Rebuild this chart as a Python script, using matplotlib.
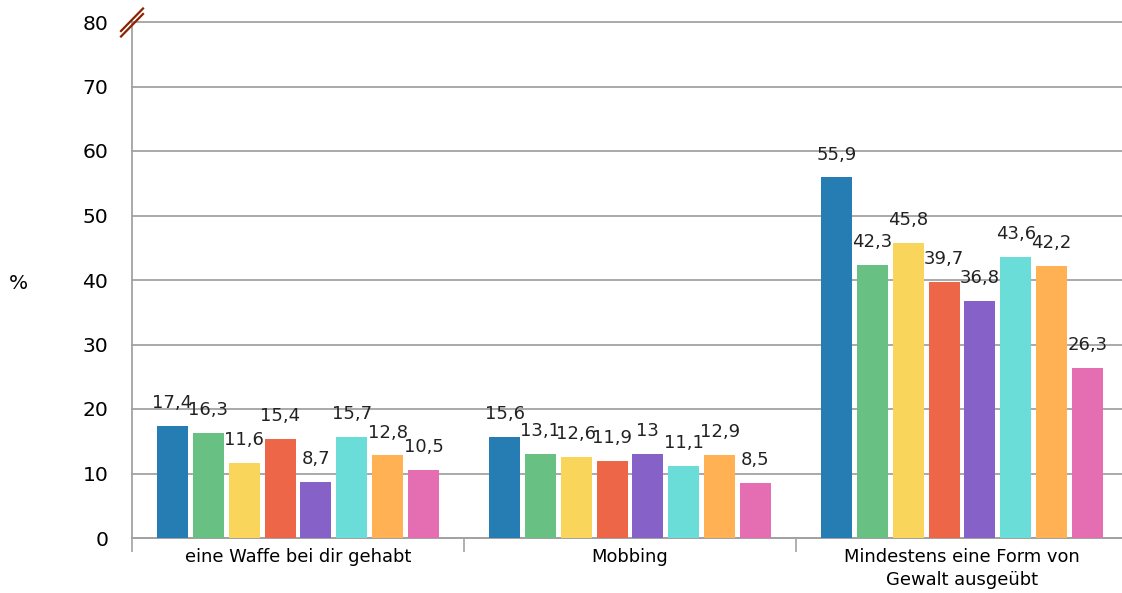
import matplotlib.pyplot as plt
from matplotlib.lines import Line2D
import numpy as np

plt.rcParams["font.family"] = ["DejaVu Sans"]

categories = ["eine Waffe bei dir gehabt", "Mobbing", "Mindestens eine Form von\nGewalt ausgeübt"]
s1 = [17.4, 15.6, 55.9]
s2 = [16.3, 13.1, 42.3]
s3 = [11.6, 12.6, 45.8]
s4 = [15.4, 11.9, 39.7]
s5 = [8.7, 13.0, 36.8]
s6 = [15.7, 11.1, 43.6]
s7 = [12.8, 12.9, 42.2]
s8 = [10.5, 8.5, 26.3]
series = [s1, s2, s3, s4, s5, s6, s7, s8]
colors = ["#267db3", "#68c182", "#fad55c", "#ed6647", "#8561c8", "#6addd9", "#ffb153", "#e56db1"]
yticks = [0, 10, 20, 30, 40, 50, 60, 70, 80]

grid_col = "#a2a2a2"

fig = plt.figure(figsize=(11.22, 5.93), dpi=100)
ax = fig.add_axes([132 / 1122, 55 / 593, 996 / 1122, 516 / 593])

centers = np.arange(len(categories)) + 0.5
step = 0.108
width = 0.093


def fmt(v):
    if float(v).is_integer():
        return str(int(v))
    return str(v).replace(".", ",")


for j, (vals, c) in enumerate(zip(series, colors)):
    xs = centers + (j - 3.5) * step
    ax.bar(xs, vals, width=width, color=c, zorder=3)
    for x, v in zip(xs, vals):
        ax.annotate(fmt(v), (x, v), xytext=(0, 16.5), textcoords="offset points",
                    ha="center", va="center", fontsize=13, color="#222222", zorder=4)

ax.set_xlim(0, 3)
ax.set_ylim(0, 80)
ax.set_yticks(yticks)
ax.tick_params(axis="y", length=0, pad=17, labelsize=14.6)
ax.yaxis.grid(True, color=grid_col, linewidth=1.3, zorder=0)
for gl in ax.get_ygridlines():
    gl.set_clip_on(False)

ax.set_xticks([0, 1, 2])
ax.set_xticklabels([])
ax.tick_params(axis="x", which="major", length=10, color=grid_col, width=1.2)
ax.set_xticks(centers, minor=True)
ax.set_xticklabels(categories, minor=True, fontsize=12.9, linespacing=1.4)
ax.tick_params(axis="x", which="minor", length=0, pad=7)

for side in ["top", "right"]:
    ax.spines[side].set_visible(False)
ax.spines["left"].set_color(grid_col)
ax.spines["left"].set_linewidth(1.3)
ax.spines["bottom"].set_color(grid_col)
ax.spines["bottom"].set_linewidth(1.3)

fig.text(18 / 1122, 1 - 283 / 593, "%", fontsize=14.5, ha="center", va="center")

# axis break mark
for dy in (0, 5.5):
    fig.add_artist(Line2D([121 / 1122, 143 / 1122],
                          [1 - (31 + dy) / 593, 1 - (8.5 + dy) / 593],
                          transform=fig.transFigure, color="#8b2200", linewidth=1.6))

fig.savefig("out.png", dpi=100)
